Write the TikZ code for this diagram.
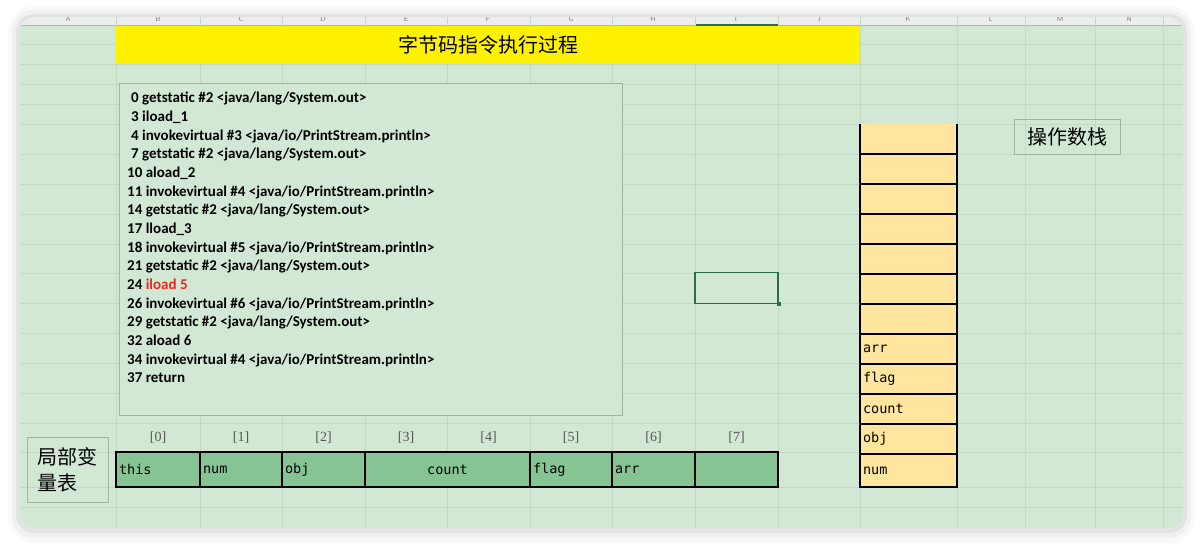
\documentclass[tikz,border=0pt]{standalone}
\usepackage{fontspec}
\setmainfont{Carlito}
\setmonofont{DejaVu Sans Mono}
\newfontfamily\cjk{Noto Sans CJK SC}
\newfontfamily\idxfont{Liberation Serif}
\usepackage{xcolor}
\usepackage{tikz}
\usetikzlibrary{positioning}
\definecolor{sheet}{RGB}{210,232,213}
\definecolor{gridc}{RGB}{195,217,199}
\definecolor{hdrgray}{RGB}{236,238,236}
\definecolor{titleyellow}{RGB}{255,242,0}
\definecolor{vargreen}{RGB}{135,196,148}
\definecolor{stackfill}{RGB}{255,229,158}
\definecolor{boxline}{RGB}{160,178,162}
\definecolor{idxgray}{RGB}{85,85,85}
\definecolor{selgreen}{RGB}{40,110,70}
\definecolor{codered}{RGB}{230,40,30}
\tikzset{codetext/.style={font=\bfseries\fontsize{15}{18.67}\selectfont,align=left,inner sep=0pt},
  framebox/.style={draw=boxline,line width=0.8pt,inner sep=0pt},
  varcell/.style={draw=black,line width=1.8pt,fill=vargreen,minimum height=35pt,inner xsep=3pt,inner ysep=0pt,outer sep=0pt,text width=#1,align=left,font=\ttfamily\fontsize{13.5}{16}\selectfont},
  stkcell/.style={draw=black,line width=2.6pt,fill=stackfill,minimum height=30pt,inner xsep=3pt,inner ysep=0pt,outer sep=0pt,text width=91pt,align=left,font=\ttfamily\fontsize{13.5}{16}\selectfont},
  idx/.style={text=idxgray,font=\idxfont\fontsize{14}{16}\selectfont},
  cjklabel/.style={font=\cjk\fontsize{20}{26}\selectfont},
  colhdr/.style={text=gray,font=\sffamily\fontsize{7}{8}\selectfont}}

\begin{document}
\begin{tikzpicture}[x=1pt,y=-1pt]
        \useasboundingbox (0,0) rectangle (1202,548);
        \fill[white] (0,0) rectangle (1202,548);
        \fill[black,opacity=0.025,rounded corners=26pt] (8,6) rectangle (1195,543);
        \fill[black,opacity=0.035,rounded corners=22pt] (12,10) rectangle (1191,538);
        \fill[black,opacity=0.05,rounded corners=18pt] (16,14) rectangle (1187,533);
        \fill[sheet,rounded corners=15pt] (20,17) rectangle (1183,528);

        \begin{scope}
        \clip[rounded corners=15pt] (20,17) rectangle (1183,528);
        \fill[hdrgray] (20,17) rectangle (1183,25);
        \node[colhdr] (ha) at (68,19) {A};
        \node[colhdr] (hb) at (158,19) {B};
        \node[colhdr] (hc) at (241,19) {C};
        \node[colhdr] (hd) at (323,19) {D};
        \node[colhdr] (he) at (406,19) {E};
        \node[colhdr] (hf) at (488,19) {F};
        \node[colhdr] (hg) at (571,19) {G};
        \node[colhdr] (hh) at (653,19) {H};
        \node[colhdr] (hi) at (736,19) {I};
        \node[colhdr] (hj) at (819,19) {J};
        \node[colhdr] (hk) at (908,19) {K};
        \node[colhdr] (hl) at (991,19) {L};
        \node[colhdr] (hm) at (1060,19) {M};
        \node[colhdr] (hn) at (1129,19) {N};
        \draw[gray!60,line width=0.6pt] (20,25) -- (1183,25);
        \draw[selgreen,line width=1.2pt] (695,25) -- (778,25);
        \draw[gridc,line width=0.6pt] (116,17) -- (116,528) (200,17) -- (200,528) (282,17) -- (282,528)
          (365,17) -- (365,528) (447,17) -- (447,528) (530,17) -- (530,528) (612,17) -- (612,528)
          (695,17) -- (695,528) (778,17) -- (778,528) (860,17) -- (860,528) (957,17) -- (957,528)
          (1025,17) -- (1025,528) (1095,17) -- (1095,528) (1163,17) -- (1163,528);
        \draw[gridc,line width=0.6pt] (20,44) -- (1183,44) (20,64) -- (1183,64) (20,84) -- (1183,84)
          (20,104) -- (1183,104) (20,124) -- (1183,124) (20,154) -- (1183,154) (20,184) -- (1183,184)
          (20,214) -- (1183,214) (20,244) -- (1183,244) (20,273) -- (1183,273) (20,303) -- (1183,303)
          (20,333) -- (1183,333) (20,363) -- (1183,363) (20,393) -- (1183,393) (20,423) -- (1183,423)
          (20,452) -- (1183,452) (20,487) -- (1183,487) (20,507) -- (1183,507);
        \end{scope}

        \node[fill=titleyellow,minimum width=744pt,minimum height=38pt,inner sep=0pt,cjklabel] (title) at (488,45) {字节码指令执行过程};

        \node[framebox,fill=sheet,minimum width=503pt,minimum height=332pt] (codebox) at (370.5,249) {};
        \node[codetext,anchor=north west] (code) at (127,92) {%
\hspace*{4pt}0 getstatic \#2 <java/lang/System.out>\\
\hspace*{4pt}3 iload\_1\\
\hspace*{4pt}4 invokevirtual \#3 <java/io/PrintStream.println>\\
\hspace*{4pt}7 getstatic \#2 <java/lang/System.out>\\
10 aload\_2\\
11 invokevirtual \#4 <java/io/PrintStream.println>\\
14 getstatic \#2 <java/lang/System.out>\\
17 lload\_3\\
18 invokevirtual \#5 <java/io/PrintStream.println>\\
21 getstatic \#2 <java/lang/System.out>\\
24 \textcolor{codered}{iload 5}\\
26 invokevirtual \#6 <java/io/PrintStream.println>\\
29 getstatic \#2 <java/lang/System.out>\\
32 aload 6\\
34 invokevirtual \#4 <java/io/PrintStream.println>\\
37 return};

        \node[draw=selgreen,line width=1.2pt,fill=sheet,minimum width=83pt,minimum height=31pt,inner sep=0pt] (sel) at (736.5,288) {};
        \node[fill=selgreen,minimum size=4pt,inner sep=0pt] (hdl) at (sel.south east) {};

        \node[stkcell,draw=none] (st1) at (908.5,139) {};
        \node[stkcell,below=0pt of st1] (st2) {};
        \node[stkcell,below=0pt of st2] (st3) {};
        \node[stkcell,below=0pt of st3] (st4) {};
        \node[stkcell,below=0pt of st4] (st5) {};
        \node[stkcell,below=0pt of st5] (st6) {};
        \node[stkcell,below=0pt of st6] (st7) {};
        \node[stkcell,below=0pt of st7] (st8) {arr};
        \node[stkcell,below=0pt of st8] (st9) {flag};
        \node[stkcell,below=0pt of st9] (st10) {count};
        \node[stkcell,below=0pt of st10] (st11) {obj};
        \node[stkcell,below=0pt of st11,minimum height=33pt] (st12) {num};
        \draw[black,line width=2.6pt] (st1.north west) -- (st1.south west);
        \draw[black,line width=2.6pt] (st1.north east) -- (st1.south east);

        \node[framebox,minimum width=106pt,minimum height=35pt,cjklabel] (opstack) at (1067,136.5) {操作数栈};

        \node[varcell=78pt] (v0) at (158,469.5) {this};
        \node[varcell=76pt,right=0pt of v0] (v1) {num};
        \node[varcell=77pt,right=0pt of v1] (v2) {obj};
        \node[varcell=159pt,align=center,right=0pt of v2] (v3) {count};
        \node[varcell=76pt,right=0pt of v3] (v5) {flag};
        \node[varcell=77pt,right=0pt of v5] (v6) {arr};
        \node[varcell=77pt,right=0pt of v6] (v7) {};

        \node[idx] (i0) at (158,438) {[0]};
        \node[idx] (i1) at (241,438) {[1]};
        \node[idx] (i2) at (323.5,438) {[2]};
        \node[idx] (i3) at (406,438) {[3]};
        \node[idx] (i4) at (488.5,438) {[4]};
        \node[idx] (i5) at (571,438) {[5]};
        \node[idx] (i6) at (653.5,438) {[6]};
        \node[idx] (i7) at (736.5,438) {[7]};

        \node[framebox,minimum width=81pt,minimum height=65pt,cjklabel,align=left] (lvt) at (67.5,469.5) {局部变\\量表};
    \end{tikzpicture}
\end{document}
